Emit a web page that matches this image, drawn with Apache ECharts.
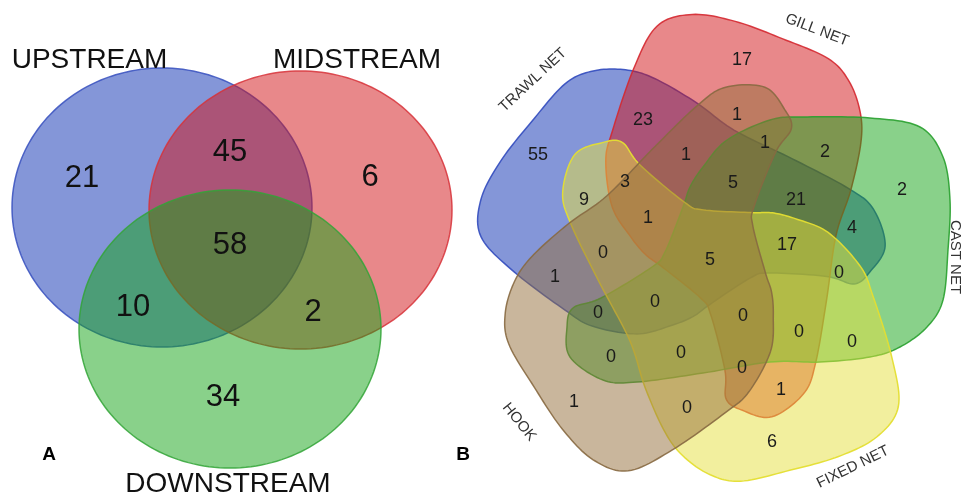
<!DOCTYPE html>
<html>
<head>
<meta charset="utf-8">
<script src="https://cdn.jsdelivr.net/npm/echarts@6/dist/echarts.min.js"></script>
<style>
  html, body { margin: 0; padding: 0; background: #ffffff; }
  #chart { width: 964px; height: 499px; }
</style>
</head>
<body>
<div id="chart"></div>
<script>
// ---- Panel A: species shared between river sections ----
const sectionNames = ['UPSTREAM', 'MIDSTREAM', 'DOWNSTREAM'];
// region order: U only, M only, D only, U∩M, U∩D, M∩D, U∩M∩D
const sectionRegionValues = [21, 6, 34, 45, 10, 2, 58];

// ---- Panel B: species shared between fishing gears ----
const gearNames = ['TRAWL NET', 'GILL NET', 'CAST NET', 'FIXED NET', 'HOOK'];
const gearRegionValues = [55, 17, 23, 1, 1, 2, 1, 9, 3, 5, 21, 2, 4, 1, 17, 0,
                          1, 5, 0, 0, 0, 0, 0, 0, 0, 0, 0, 1, 1, 0, 6];

const panelTags = ['A', 'B'];

// ---- layout (pixel space of the hidden axes) ----
const ellipsesA = [            // cx, cy, rx, ry
  [162, 207.5, 150, 139.5],
  [300.5, 210, 151.5, 139],
  [230, 329, 151, 139]
];
const sectionLabelPos = [[89.5, 60], [357, 60], [228, 484]];
const sectionRegionPos = [[82, 178], [370, 177], [223, 397], [230, 152], [133, 307], [313, 312], [230, 245]];

const colorsA = [
  { fill: 'rgba(9,45,177,0.5)', stroke: 'rgba(55,80,190,0.85)' },
  { fill: 'rgba(209,17,21,0.5)', stroke: 'rgba(215,50,58,0.85)' },
  { fill: 'rgba(19,163,21,0.5)', stroke: 'rgba(50,165,55,0.85)' }
];

// one five-set lobe outline, drawn facing east around the diagram centre
const lobeOutline = [
  [12, -112], [55, -132], [88, -135], [155, -134], [205, -125], [228, -95],
  [235, -52], [233, -2], [228, 48], [212, 75], [185, 95], [155, 105],
  [105, 110], [55, 110], [-12, 121], [-78, 130], [-112, 128], [-145, 105],
  [-148, 75], [-142, 56], [-114, 46], [-63, 15], [-50, 0], [-32, -45],
  [-25, -65], [-12, -85]
];
const centreB = [715, 252];
// facing angle (degrees, clockwise) of each gear lobe
const gearAngles = [216, 288, 0, 72, 144];
// per-lobe stretch along its own axis and small shift
const gearFit = [
  { su: 0.95, dx: -3, dy: -2 },
  { su: 0.96, dx: 0, dy: 0 },
  { su: 1.0, dx: 0, dy: 0 },
  { su: 0.97, dx: 3, dy: 4 },
  { su: 0.96, dx: -1, dy: 2 }
];
const gearColors = [
  { fill: 'rgba(9,45,177,0.5)', stroke: 'rgba(50,75,190,0.9)' },
  { fill: 'rgba(209,17,21,0.5)', stroke: 'rgba(212,40,48,0.9)' },
  { fill: 'rgba(19,163,21,0.5)', stroke: 'rgba(40,160,45,0.9)' },
  { fill: 'rgba(229,223,61,0.5)', stroke: 'rgba(228,222,50,0.95)' },
  { fill: 'rgba(147,109,57,0.5)', stroke: 'rgba(135,105,65,0.9)' }
];
const gearLabelPos = [[533, 80, 43], [817, 30, -21], [955, 257, -90], [853, 467, 26], [519, 422, -51]];
const gearRegionPos = [
  [538, 155], [742, 60], [643, 120], [737, 115], [765, 143], [825, 152], [686, 155],
  [584, 200], [625, 182], [733, 183], [796, 200], [902, 190], [852, 228], [648, 218],
  [787, 245], [603, 253], [555, 277], [710, 260], [839, 273], [655, 302], [598, 313],
  [743, 316], [799, 332], [852, 342], [611, 357], [681, 353], [742, 368], [781, 390],
  [574, 402], [687, 408], [772, 442]
];
const panelTagPos = [[49, 455], [463, 455]];

// closed Catmull-Rom curve through the outline points
function closedSpline(pts, steps) {
  const out = [];
  const n = pts.length;
  for (let i = 0; i < n; i++) {
    const p0 = pts[(i - 1 + n) % n], p1 = pts[i], p2 = pts[(i + 1) % n], p3 = pts[(i + 2) % n];
    for (let s = 0; s < steps; s++) {
      const t = s / steps, t2 = t * t, t3 = t2 * t;
      const f = k => 0.5 * (2 * p1[k] + (-p0[k] + p2[k]) * t +
        (2 * p0[k] - 5 * p1[k] + 4 * p2[k] - p3[k]) * t2 +
        (-p0[k] + 3 * p1[k] - 3 * p2[k] + p3[k]) * t3);
      out.push([f(0), f(1)]);
    }
  }
  return out;
}
const lobeCurve = closedSpline(lobeOutline, 12);

const FONT = '"Liberation Sans", Arial, Helvetica, sans-serif';

function textItem(api, pos, text, size, opts) {
  const p = api.coord(pos);
  return {
    type: 'text',
    x: p[0], y: p[1],
    rotation: (opts && opts.rot ? opts.rot : 0) * Math.PI / 180,
    style: {
      text: String(text),
      font: (opts && opts.weight ? opts.weight + ' ' : '') + size + 'px ' + FONT,
      fill: (opts && opts.color) || '#111',
      align: 'center',
      verticalAlign: 'middle'
    }
  };
}

const chart = echarts.init(document.getElementById('chart'), null, { renderer: 'canvas' });

chart.setOption({
  backgroundColor: '#ffffff',
  animation: false,
  grid: { left: 0, right: 0, top: 0, bottom: 0 },
  xAxis: { type: 'value', min: 0, max: 964, show: false },
  yAxis: { type: 'value', min: 0, max: 499, inverse: true, show: false },
  series: [
    {
      // three river-section sets
      type: 'custom',
      coordinateSystem: 'cartesian2d',
      data: sectionNames.map((n, i) => [i]),
      renderItem(params, api) {
        const e = ellipsesA[params.dataIndex];
        const pts = [];
        for (let k = 0; k < 180; k++) {
          const t = k / 180 * Math.PI * 2;
          pts.push(api.coord([e[0] + e[2] * Math.cos(t), e[1] + e[3] * Math.sin(t)]));
        }
        const c = colorsA[params.dataIndex];
        return { type: 'polygon', shape: { points: pts }, style: { fill: c.fill, stroke: c.stroke, lineWidth: 1.5 } };
      }
    },
    {
      // five gear sets
      type: 'custom',
      coordinateSystem: 'cartesian2d',
      data: gearNames.map((n, i) => [i]),
      renderItem(params, api) {
        const i = params.dataIndex;
        const a = gearAngles[i] * Math.PI / 180;
        const ca = Math.cos(a), sa = Math.sin(a);
        const fit = gearFit[i];
        const pts = lobeCurve.map(([u0, v]) => {
          const u = u0 * fit.su;
          return api.coord([centreB[0] + fit.dx + u * ca - v * sa, centreB[1] + fit.dy + u * sa + v * ca]);
        });
        const c = gearColors[i];
        return { type: 'polygon', shape: { points: pts }, style: { fill: c.fill, stroke: c.stroke, lineWidth: 1.5 } };
      }
    },
    {
      // set names and region counts
      type: 'custom',
      coordinateSystem: 'cartesian2d',
      data: [[0]],
      renderItem(params, api) {
        const children = [];
        sectionNames.forEach((n, i) => children.push(textItem(api, sectionLabelPos[i], n, 28, { color: '#111' })));
        sectionRegionValues.forEach((v, i) => children.push(textItem(api, sectionRegionPos[i], v, 31)));
        gearNames.forEach((n, i) => children.push(textItem(api, gearLabelPos[i], n, 15,
          { rot: gearLabelPos[i][2], color: '#333' })));
        gearRegionValues.forEach((v, i) => children.push(textItem(api, gearRegionPos[i], v, 18, { color: '#1a1a1a' })));
        panelTags.forEach((t, i) => children.push(textItem(api, panelTagPos[i], t, 19, { weight: 'bold', color: '#000' })));
        return { type: 'group', children };
      }
    }
  ]
});
</script>
</body>
</html>
